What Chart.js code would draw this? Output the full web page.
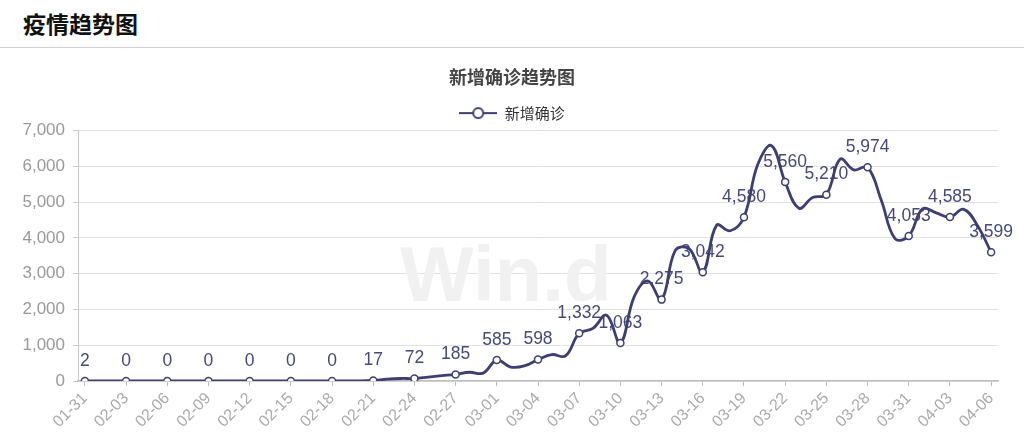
<!DOCTYPE html>
<html>
<head>
<meta charset="utf-8">
<script src="https://cdn.jsdelivr.net/npm/chart.js@4.4.0/dist/chart.umd.min.js"></script>
<style>
  html, body { margin: 0; padding: 0; background: #fff; }
  .header {
    height: 47px; border-bottom: 1px solid #cfcfcf; box-sizing: content-box;
    font-family: 'Noto Sans CJK SC', sans-serif; font-weight: bold; font-size: 23px;
    color: #111; line-height: 46px; padding-left: 23px;
  }
  .wrap { position: relative; width: 1024px; height: 397px; }
</style>
</head>
<body>
<div class="header">疫情趋势图</div>
<div class="wrap"><canvas id="trend"></canvas></div>
<script>
const dates = [
  '01-31','02-01','02-02','02-03','02-04','02-05','02-06','02-07','02-08','02-09',
  '02-10','02-11','02-12','02-13','02-14','02-15','02-16','02-17','02-18','02-19',
  '02-20','02-21','02-22','02-23','02-24','02-25','02-26','02-27','02-28','02-29',
  '03-01','03-02','03-03','03-04','03-05','03-06','03-07','03-08','03-09','03-10',
  '03-11','03-12','03-13','03-14','03-15','03-16','03-17','03-18','03-19','03-20',
  '03-21','03-22','03-23','03-24','03-25','03-26','03-27','03-28','03-29','03-30',
  '03-31','04-01','04-02','04-03','04-04','04-05','04-06'
];
const newCases = [
  2, 0, 0, 0, 0, 0, 0, 0, 0, 0,
  0, 0, 0, 0, 0, 0, 0, 0, 0, 0,
  1, 17, 50, 70, 72, 110, 150, 185, 245, 220,
  585, 390, 420, 598, 740, 700, 1332, 1470, 1840, 1063,
  2350, 2800, 2275, 3650, 3700, 3042, 4350, 4200, 4580, 6050,
  6580, 5560, 4830, 5130, 5210, 6200, 5900, 5974, 5050, 3980,
  4053, 4810, 4700, 4585, 4800, 4350, 3599
];
const yTicks = [0, 1000, 2000, 3000, 4000, 5000, 6000, 7000];
const labelEvery = 3;

const lineColor = '#3d3f72';
const numFont = "'Liberation Sans', Arial, sans-serif";
const cjkFont = "'Noto Sans CJK SC', sans-serif";

// legend icon: short line with a hollow circle
const legendIcon = document.createElement('canvas');
legendIcon.width = 38; legendIcon.height = 14;
(function () {
  const c = legendIcon.getContext('2d');
  c.strokeStyle = lineColor; c.lineWidth = 2;
  c.beginPath(); c.moveTo(0, 7); c.lineTo(38, 7); c.stroke();
  c.beginPath(); c.arc(19, 7, 5, 0, Math.PI * 2);
  c.fillStyle = '#fff'; c.fill(); c.stroke();
})();

const watermark = {
  id: 'watermark',
  beforeDatasetsDraw(chart) {
    const { ctx, chartArea } = chart;
    ctx.save();
    ctx.font = 'bold 78px ' + numFont;
    ctx.fillStyle = '#f1f1f1';
    ctx.textAlign = 'center';
    ctx.textBaseline = 'alphabetic';
    ctx.fillText('Win.d', chartArea.left + chartArea.width * 0.465, chartArea.top + chartArea.height * 0.68);
    ctx.restore();
  }
};

const valueLabels = {
  id: 'valueLabels',
  beforeDatasetsDraw(chart) {
    const ctx = chart.ctx;
    const meta = chart.getDatasetMeta(0);
    ctx.save();
    ctx.font = '17.5px ' + numFont;
    ctx.fillStyle = '#46487a';
    ctx.textAlign = 'center';
    ctx.textBaseline = 'middle';
    meta.data.forEach((pt, i) => {
      if (i % labelEvery) return;
      ctx.fillText(newCases[i].toLocaleString('en-US'), pt.x, pt.y - 20);
    });
    ctx.restore();
  }
};

new Chart(document.getElementById('trend'), {
  type: 'line',
  data: {
    labels: dates,
    datasets: [{
      label: '新增确诊',
      data: newCases,
      yAxisID: 'y',
      borderColor: lineColor,
      backgroundColor: '#fff',
      borderWidth: 2.8,
      tension: 0.4,
      pointRadius: ctx => ctx.dataIndex % labelEvery === 0 ? 3.5 : 0,
      pointBorderWidth: 1.5,
      pointBackgroundColor: '#fff',
      pointBorderColor: lineColor
    }]
  },
  options: {
    responsive: true,
    maintainAspectRatio: false,
    animation: false,
    layout: { padding: 0 },
    plugins: {
      title: {
        display: true,
        text: '新增确诊趋势图',
        color: '#444',
        font: { family: cjkFont, size: 18, weight: 'bold' },
        padding: { top: 18, bottom: 10 }
      },
      legend: {
        position: 'top',
        labels: {
          usePointStyle: true,
          pointStyle: legendIcon,
          pointStyleWidth: 38,
          color: '#333',
          padding: 8,
          font: { family: cjkFont, size: 15 }
        }
      },
      tooltip: { enabled: false }
    },
    scales: {
      x: {
        offset: true,
        afterFit: s => { s.height = 64; },
        grid: {
          offset: false,
          drawOnChartArea: false,
          tickLength: 5,
          color: ctx => ctx.index % labelEvery === 0 ? '#bdbdbd' : 'rgba(0,0,0,0)'
        },
        border: { color: '#bdbdbd', width: 1.5 },
        ticks: {
          autoSkip: false,
          minRotation: 45,
          maxRotation: 45,
          padding: 3,
          color: '#aaa',
          font: { family: numFont, size: 16 },
          callback: (v, i) => i % labelEvery === 0 ? dates[i] : ''
        }
      },
      y: {
        min: 0,
        max: 7000,
        afterFit: s => { s.width = 78; },
        afterBuildTicks: s => { s.ticks = yTicks.map(v => ({ value: v })); },
        grid: { color: '#e2e2e2', tickLength: 5, tickColor: '#c8c8c8' },
        border: { color: '#c8c8c8' },
        ticks: {
          padding: 8,
          color: '#999',
          font: { family: numFont, size: 17 },
          callback: v => v.toLocaleString('en-US')
        }
      },
      // empty right axis, only keeps the plot clear of the right edge
      yRight: {
        position: 'right',
        min: 0,
        max: 7000,
        afterFit: s => { s.width = 26; },
        grid: { display: false },
        border: { display: false },
        ticks: { display: false }
      }
    }
  },
  plugins: [watermark, valueLabels]
});
</script>
</body>
</html>
